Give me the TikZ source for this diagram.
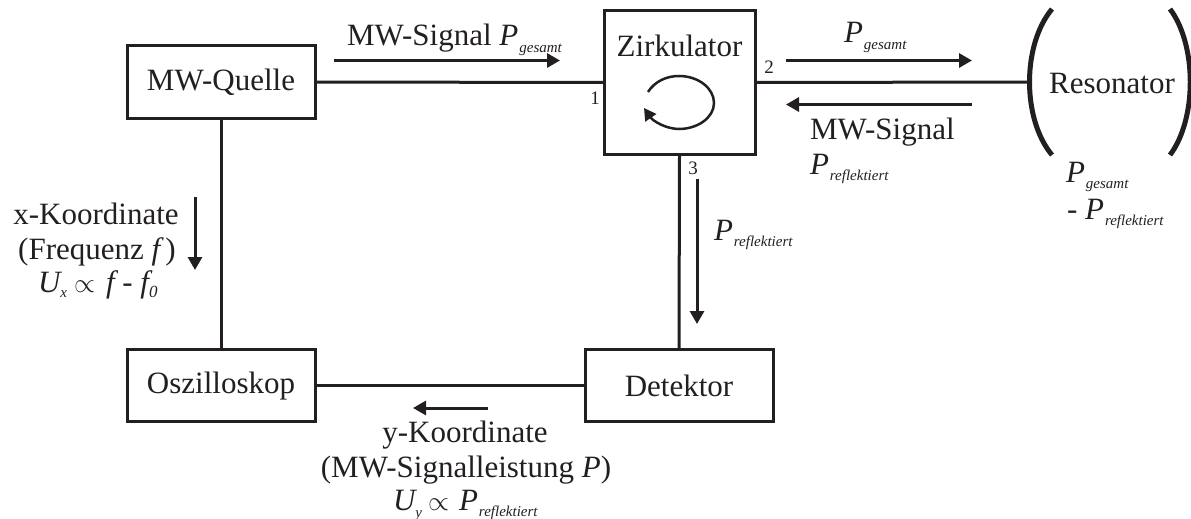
\documentclass[tikz,border=0pt]{standalone}
\usepackage{fontspec}
\setmainfont{Liberation Serif}
\usetikzlibrary{arrows.meta}
\definecolor{ink}{RGB}{35,31,32}
\newcommand\idx[2][-6pt]{\raisebox{#1}{\fontsize{15}{15}\selectfont\itshape #2}}
\newcommand\Pidx[1]{{\itshape P}\hspace{1pt}\idx{#1}}
\newcommand\prop{\scalebox{2.7}{\normalsize$\propto$}}
\tikzset{
  conn/.style={draw=ink,line width=3pt},
  boxn/.style={draw=ink,line width=3pt,inner sep=0pt,outer sep=0pt,text=ink,
    font=\fontsize{31}{34}\selectfont,minimum width=188pt,minimum height=72pt,text height=21pt,text depth=5pt},
  flow/.style={draw=ink,line width=3pt,-{Triangle[length=13pt,width=14pt]}},
  txt/.style={inner sep=0pt,outer sep=0pt,text=ink,anchor=base west,font=\fontsize{31}{34}\selectfont},
  txtc/.style={txt,anchor=base},
  num/.style={txt,anchor=base,font=\fontsize{19}{20}\selectfont},
  paren/.style={draw=ink,line width=5pt}
}
\begin{document}
\begin{tikzpicture}[x=1pt,y=-1pt]
\useasboundingbox (0,0) rectangle (1191,519);
% blocks
\node[boxn] (quelle) at (221,82) {MW-Quelle};
\node[boxn] (osz) at (221,385) {Oszilloskop};
\node[boxn,text height=24pt,text depth=2pt] (det) at (679,385) {Detektor};
\node[boxn,minimum width=151pt,minimum height=144.5pt] (zirk) at (679.5,82.5) {};
\node[txtc] (zirkt) at (679.5,57) {Zirkulator};
\node[txtc] (reso) at (1112,93) {Resonator};
\coordinate (resL) at (1030,82);
% connectors
\draw[conn] (quelle.east) -- (zirk.west);
\draw[conn] (zirk.east) -- (resL);
\draw[conn] (quelle.south) -- (osz.north);
\draw[conn] (osz.east) -- (det.west);
\draw[conn] (zirk.south) -- (det.north);
% resonator brackets
\coordinate (lt) at (1052,9); \coordinate (lb) at (1052,155);
\coordinate (rt) at (1170,9); \coordinate (rb) at (1170,155);
\draw[paren] (lt) .. controls (1022,45) and (1022,119) .. (lb);
\draw[paren] (rt) .. controls (1197,45) and (1197,119) .. (rb);
% circulation arrow
\coordinate (ca) at (648,92); \coordinate (cb) at (679,76); \coordinate (cc) at (714,103);
\coordinate (cd) at (679,129); \coordinate (ce) at (644,108);
\draw[draw=ink,line width=2.5pt,-{Triangle[length=12pt,width=13pt]}]
  (ca) .. controls (655,81) and (667,76) .. (cb)
       .. controls (698,76) and (714,88) .. (cc)
       .. controls (714,118) and (697,129) .. (cd)
       .. controls (666,129) and (653,121) .. (ce);
% flow arrows
\coordinate (a1s) at (334,60.5); \coordinate (a1e) at (560,60.5);
\coordinate (a2s) at (786,60.5); \coordinate (a2e) at (972,60.5);
\coordinate (a3s) at (972,104.5); \coordinate (a3e) at (786,104.5);
\coordinate (a4s) at (697,179); \coordinate (a4e) at (697,324);
\coordinate (a5s) at (195,197); \coordinate (a5e) at (195,270);
\coordinate (a6s) at (488,408); \coordinate (a6e) at (413,408);
\draw[flow] (a1s) -- (a1e);
\draw[flow] (a2s) -- (a2e);
\draw[flow] (a3s) -- (a3e);
\draw[flow] (a4s) -- (a4e);
\draw[flow] (a5s) -- (a5e);
\draw[flow] (a6s) -- (a6e);
% port numbers
\node[num] (p1) at (595,104) {1};
\node[num] (p2) at (769,74) {2};
\node[num] (p3) at (693,174) {3};
% labels
\node[txt] (l1) at (347,46) {MW-Signal \Pidx{gesamt}};
\node[txt] (l2) at (844,43) {\Pidx{gesamt}};
\node[txt] (l3) at (810,139) {MW-Signal};
\node[txt] (l4) at (810,174) {\Pidx{reflektiert}};
\node[txt] (l5) at (1066,182) {\Pidx{gesamt}};
\node[txt] (l6) at (1067,219) {- \Pidx{reflektiert}};
\node[txt] (l7) at (714,240) {\Pidx{reflektiert}};
\node[txtc] (x1) at (96,224) {x-Koordinate};
\node[txtc] (x2) at (97,259) {(Frequenz {\itshape f\,})};
\node[txt] (x3) at (38,292) {{\itshape U}\hspace{0pt}\idx[-5pt]{x}\hspace{7pt}\prop\hspace{11pt}{\itshape f} - {\itshape f}\raisebox{-5pt}{\fontsize{17}{17}\selectfont\itshape 0}};
\node[txtc] (y1) at (465,442) {y-Koordinate};
\node[txtc] (y2) at (466,477) {(MW-Signalleistung {\itshape P})};
\node[txt] (y3) at (393,510) {{\itshape U}\hspace{0pt}\idx[-7pt]{y}\hspace{6pt}\prop\hspace{10pt}\Pidx{reflektiert}};
\end{tikzpicture}
\end{document}
